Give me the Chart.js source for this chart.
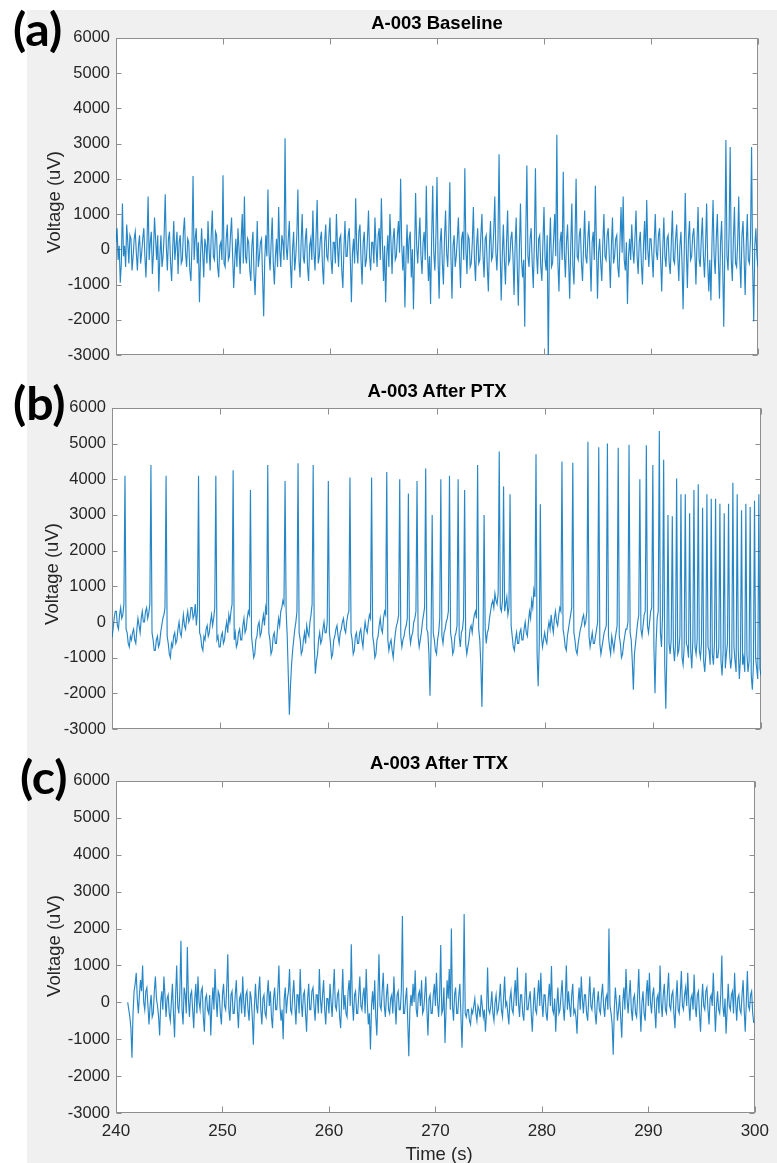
<!DOCTYPE html>
<html>
<head>
<meta charset="utf-8">
<script src="https://cdn.jsdelivr.net/npm/chart.js@4.4.0/dist/chart.umd.min.js"></script>
<style>
  html, body { margin: 0; padding: 0; background: #fff; }
  #fig { position: relative; width: 777px; height: 1163px; overflow: hidden; }
  #bg { position: absolute; left: 27px; top: 10px; right: 0; bottom: 0; background: #f0f0f0; }
  canvas { position: absolute; left: 0; }
  .ttl { position: absolute; font: bold 18.5px "Liberation Sans", Arial, sans-serif; line-height: 1; color: #000; transform: translateX(-50%); white-space: nowrap; }
  .ylab { position: absolute; font: 18.5px "Liberation Sans", Arial, sans-serif; line-height: 1; color: #262626; transform: translate(-50%, -50%) rotate(-90deg); white-space: nowrap; }
  .xlab { position: absolute; font: 18.5px "Liberation Sans", Arial, sans-serif; line-height: 1; color: #262626; transform: translateX(-50%); white-space: nowrap; }
  .tag { position: absolute; font: bold 46px Lato, "Open Sans", sans-serif; line-height: 1; color: #000; transform: scaleX(1.05); transform-origin: left top; }
</style>
</head>
<body>
<div id="fig">
  <div id="bg"></div>
  <canvas id="baseline"></canvas>
  <canvas id="ptx"></canvas>
  <canvas id="ttx"></canvas>

  <div class="ttl" style="left:437px; top:14px;">A-003 Baseline</div>
  <div class="ttl" style="left:437px; top:382px;">A-003 After PTX</div>
  <div class="ttl" style="left:439px; top:754px;">A-003 After TTX</div>

  <div class="ylab" style="left:54px; top:202px;">Voltage (uV)</div>
  <div class="ylab" style="left:52px; top:574px;">Voltage (uV)</div>
  <div class="ylab" style="left:54px; top:946px;">Voltage (uV)</div>

  <div class="xlab" style="left:439px; top:1145px;">Time (s)</div>

  <div class="tag" style="left:13px; top:6px;">(a)</div>
  <div class="tag" style="left:13px; top:380px;">(b)</div>
  <div class="tag" style="left:20px; top:754px;">(c)</div>
</div>

<script>
// sample spacing of the recorded traces (s)
const STEP = 0.1;

// time axis
const timeMin = 240;
const timeMax = 300;
const timeTicks = [240, 250, 260, 270, 280, 290, 300];

// voltage axis (uV)
const voltMin = -3000;
const voltMax = 6000;
const voltTicks = [-3000, -2000, -1000, 0, 1000, 2000, 3000, 4000, 5000, 6000];

// A-003 baseline, from 240 s (one row = 2 s)
const baselineStart = 240;
const baselineUV = [
  200, 600, -300, 100, -950, -400, 1300, -200, 100, -500, 700, 200, -400, 400, 300, -600, -200, 300, 500, -100,
  -600, 100, 400, -400, -100, 300, 600, -200, -800, 200, 1500, -300, 200, 500, -700, -100, 900, 300, -300, 400,
  -1200, -200, 400, -500, -200, 400, 1560, 100, -600, 300, 500, -400, -900, 0, 800, -300, 100, 500, -700, 200,
  400, -400, -300, 500, 900, -100, -500, 300, 200, -600, -900, 100, 2080, -300, 300, 600, -400, 200, -1500, -200,
  600, -100, -800, 300, 100, -400, 800, 0, -600, 400, 1100, -200, -300, 500, 400, -500, -800, 100, 200, -300,
  2100, -400, -500, 300, 700, -300, -200, 400, 900, -200, -1100, -300, 300, -500, 600, 0, -700, 300, 1000, -400,
  1500, -200, -400, 300, 200, -600, -900, 100, 500, -700, -1300, -400, 800, -500, -200, 200, 300, -800, -1900, -300,
  400, -200, 1700, -100, -600, 200, 900, -400, -1000, -200, 300, -500, 1200, 0, -500, 400, 200, -300, 3150, 100,
  -300, 300, 800, -400, -1100, 0, 500, -600, -200, 400, 1700, -300, -800, 200, 1000, -200, -400, 300, 600, -500,
  -900, 100, 300, -300, 1100, -100, -600, 400, 1400, -400, -200, 300, 500, -500, -1000, 200, 700, -200, -300, 400,
  900, -300, -700, 200, 200, -400, 1000, 100, -500, 300, 400, -600, -1100, 0, 800, -200, -200, 400, 600, -300,
  -1500, -100, 300, -400, 1450, 0, -400, 500, 700, -300, -1000, 200, 500, -500, -300, 300, 1100, -200, -600, 200,
  200, -400, 900, 100, -500, 400, 600, -300, 1450, 200, -900, 100, -1500, -200, 400, -500, 1000, 200, -700, 300,
  600, -300, -200, 400, 800, -100, 2000, 200, -600, 100, -1650, -300, 700, -400, 300, 500, -800, 0, -1700, -200,
  1600, 100, -400, 300, 900, -200, -700, 200, 500, -300, 1800, 0, -900, -200, -1550, 300, 1800, -100, -600, 400,
  2050, -300, -1400, 200, 600, -400, -1000, 300, 1100, -100, -500, 400, 1900, -200, -1400, 100, 400, -500, -200, 300,
  900, -200, -1100, 300, 500, -300, 2300, 0, -700, 400, 300, -500, -400, 200, 1200, -300, -900, 100, 600, -400,
  -300, 400, 1000, -200, -800, 300, 400, -500, -1200, 100, 800, -300, -200, 500, 1500, -100, -600, 300, 2700, 0,
  -1450, -200, 700, -300, -1000, 200, 1100, -400, -300, 300, 500, -200, -1300, 100, 900, -500, -1600, 0, 1300, -300,
  -800, -300, -2200, 500, 2380, -200, -500, 300, 600, -400, -1100, 200, 2300, -100, -700, 300, 400, -500, -900, 200,
  1200, -300, -600, 400, -3300, -100, 900, -500, -400, 300, 1000, -200, 3250, -400, -1200, 200, 500, -300, 2200, -100,
  -800, 200, 700, -300, -1400, 100, 1300, -500, -1000, 300, 2000, -200, -300, 400, 600, -400, -900, 100, 1100, -200,
  -400, 300, 800, -200, -1200, 200, 500, -300, 1800, 100, -1400, -100, 300, -400, -900, 200, 1000, -200, -300, 400,
  600, -200, -1100, 100, 900, -400, -200, 300, 400, -500, -800, 200, 1200, -100, 1500, -300, -600, 200, -1550, -200,
  300, -300, 700, 0, -400, 300, 1100, -200, -700, 200, 500, -400, -1000, 100, 800, -300, 1400, 0, -500, 300,
  300, -200, -800, 200, 1000, -100, -300, 400, 600, -300, -1200, 0, 900, -200, -500, 300, 400, -400, -700, 200,
  1100, -300, -400, 300, 700, -200, -900, 100, 500, -400, -1700, -200, 1600, 0, -1100, 300, 800, -300, -200, 400,
  600, -100, -1000, 200, 1200, -300, -500, 300, 900, -200, -800, 100, 1300, -400, -1200, -300, -1450, 200, 1400, -200,
  -700, 300, 1000, -300, -1400, 200, 800, -500, -2200, 0, 3100, -200, -600, 500, 2900, -300, -900, 300, 1200, -400,
  -500, 200, 1500, -300, -1100, 400, 800, -200, -1300, 100, 1000, -300, -400, 300, 2900, -500, -2050, 100, 600, -200,
  -500
];

// A-003 after PTX, from 240 s (one row = 2 s)
const ptxStart = 240;
const ptxUV = [
  -430, -200, 100, 300, 300, -100, -200, 200, 400, 100, 200, 500, 4100, -200, -300, -600, -700, -400, -500, -300,
  -200, -500, -600, -200, 100, -100, -300, 100, 300, 0, 0, 300, 400, 100, 250, 500, 4400, -300, -500, -800,
  -800, -500, -400, -700, -600, -300, -100, 100, 200, 400, 4100, -400, -600, -900, -1000, -600, -700, -400, -300, -600,
  -500, -200, 0, -300, -400, -100, 200, -100, -200, 100, 300, 0, 100, 400, 400, 100, 200, 500, -100, 300,
  4100, -300, -400, -700, -800, -400, -500, -200, -100, -400, -300, 0, 200, -100, 100, 400, 4100, -500, -400, -700,
  -700, -400, -300, -600, -500, -200, 0, -300, 200, 0, 300, 500, 4250, -500, -300, -700, -600, -300, -200, -500,
  -500, -100, 100, -300, -200, 100, 300, 200, 3700, -400, -700, -1000, -900, -500, -400, -100, 0, -400, -300, 0,
  200, -100, 400, 200, 4400, -300, -500, -900, -800, -400, -300, -600, -600, -200, 100, -100, 300, 400, 600, 500,
  3950, 300, -400, -1500, -2600, -1800, -1200, -800, -500, -200, 0, 300, 4450, -300, -500, -900, -800, -500, -300, -600,
  -100, -300, -400, 0, 200, 500, 4400, -600, -1450, -1100, -900, -500, -300, -600, -500, -200, 0, -300, -300, 0,
  3950, -300, -600, -1000, -900, -500, -400, -200, -100, -400, -600, -300, -200, 0, 100, -200, -300, 0, 200, 300,
  4050, -300, -500, -900, -800, -400, -300, -600, -600, -300, -200, -500, -700, -300, 0, -200, -300, 0, 200, 100,
  4050, -400, -600, -1000, -900, -500, -400, -100, 100, -200, -300, 100, 300, 200, 4200, -500, -800, -600, -500, -800,
  -1000, -600, -300, -100, 0, 200, 4000, -400, -700, -500, -400, -200, -100, 100, 3600, -300, -600, -400, -300, 0,
  100, 300, 3950, -400, -700, -500, -300, 0, 200, 400, 4300, -200, -300, -900, -2070, -400, 3000, -300, -500, -800,
  -900, -500, -300, 100, 4000, -400, -600, -300, -200, 0, 100, 300, 4100, -300, -500, -900, -800, -400, -300, -100,
  4000, -400, -700, -300, -200, 100, 3700, -600, -900, -700, -500, -200, -100, -300, 0, 200, 300, 100, 4400, -200,
  -500, -1200, -2380, -600, 3000, -200, -600, -300, -200, 100, 300, 500, 600, 400, 800, 600, 500, 800, 4780, 400,
  300, 600, 3800, 300, 500, 700, 200, 400, 3580, -100, -400, -700, -800, -500, -300, -600, -600, -300, -200, -500,
  -500, -200, 0, -300, -400, 0, 300, 100, 600, 400, 900, 700, 4700, -900, -1800, -600, 3300, -400, -700, -500,
  -300, -500, -600, -200, 0, -200, 200, -100, -300, 100, 300, 0, -100, 200, 400, 300, 4500, -200, -400, -700,
  -800, -400, -200, 0, 200, 400, 4460, -300, -500, -800, -900, -600, -400, -200, -100, 100, 200, -100, 0, 300,
  5050, -400, -700, -500, -300, -600, -600, -400, -200, 0, 4900, -600, -900, -700, -500, -300, -200, -100, 5000, -400,
  -700, -900, -400, -600, -800, -500, -300, -100, 4880, -400, -600, -1000, -900, -600, -400, -200, -200, 0, 4970, -300,
  -500, -1100, -1900, -900, -600, -300, 0, 200, 4000, -200, -400, -100, 200, 300, 4950, -100, -300, 0, 300, 400,
  4400, -700, -2000, -600, 100, 300, 5350, -300, -700, 200, 4550, -1200, -2430, -800, 3000, -600, -900, -500, 2960, -700,
  -1100, -600, 4020, -900, -800, -400, 3580, -1000, -1200, -700, 3580, -600, -700, -1000, 3050, -800, -1300, -500, 3700, -700,
  -900, -500, 3860, -800, -1000, -600, 3200, -1100, -1400, -900, 3580, -700, -800, -1200, 3450, -900, -1200, -600, 3450, -1000,
  -1000, -700, 3310, -1100, -1500, -800, 3050, -1300, -900, -600, 3310, -900, -1300, -1000, 3900, -700, -1100, -1400, 3580, -800,
  -1600, -1000, 3130, -1200, -1000, -1400, 3310, -900, -1400, -1100, 3220, -1500, -1900, -1200, 3400, -1000, -1300, -1600, 3580, -1300,
  -1500
];

// A-003 after TTX, recording resumes at 241.1 s (one row = 2 s)
const ttxStart = 241.1;
const ttxUV = [
  0, -200, -400, -700, -1500, -300, 300, 500, 800, 100, -300, 200, 600, 300, 1000, 0, -200, 300, 400, -100,
  -600, -100, 200, -400, -300, 300, 700, 100, -100, -400, -900, 0, 300, -200, 700, 200, -400, 100, 200, -300,
  -500, 0, 500, -300, -950, 200, 1000, -100, -300, 300, 1670, -200, -600, 400, 200, -300, 1500, 100, -400, 200,
  300, -200, -700, 100, 500, -300, 700, 0, -200, 300, 400, -400, -800, 100, 200, -200, -300, 200, -900, -100,
  400, -200, 900, 100, -400, 300, 200, -300, -600, 200, 500, -100, -200, 400, 1300, -200, -500, 200, 300, -300,
  -300, 200, 600, -200, -700, 100, 200, -300, 700, 0, -400, 200, 300, -200, -500, 300, 100, -400, -1150, -100,
  500, -100, -300, 300, 700, -200, -600, 100, 200, -300, -400, 200, 600, -100, 300, -400, -700, 100, 400, -200,
  -200, 300, 1000, -100, -500, -200, -1000, 100, 400, -300, 100, 300, 900, -200, -300, 200, 600, -100, -600, 200,
  200, -300, 900, 0, -400, 200, 300, -300, -800, 100, 500, -200, -200, 300, 400, -100, -500, 200, 200, -300,
  900, 100, -300, 200, 600, -200, -600, 100, 100, -300, 500, 0, -400, 300, 900, -100, -200, 200, 300, -400,
  -700, 100, 900, -200, 200, -300, -400, 300, 600, -100, 1570, 0, -500, 200, 300, -300, -300, 200, 700, -100,
  -200, 200, 400, -300, 900, 0, -600, -300, -1280, -100, 300, -200, 600, -400, -900, 200, 1300, -100, -200, 300,
  800, -100, -400, 200, 500, -200, -300, 100, 200, -300, 700, 0, -600, 200, 300, -200, -200, 300, 2340, -300,
  -300, 100, 400, -500, -1460, -200, 200, -100, 500, 0, 870, -200, -400, 200, 300, -100, 600, -300, -200, 200,
  700, -200, -900, 100, 200, -300, -300, 200, 500, -100, 800, 0, -400, 200, 1550, -300, -200, 400, -1100, -200,
  600, 100, 900, -200, 2000, -100, -500, 200, 400, -300, -300, 200, 500, -400, -1230, 0, 2390, -300, -400, -200,
  -200, -500, -600, -200, -300, -100, 100, -300, -500, -100, -200, -400, 200, -100, -400, -200, -800, -300, 940, -200,
  -300, -100, 300, -300, -500, 0, 200, -300, -200, 100, 500, -200, -400, 100, 700, -100, 0, -300, -600, 100,
  300, -200, -300, 200, 600, -100, 940, 0, -400, 200, 200, -300, -500, 100, 800, -200, -200, 100, 300, -300,
  -800, -100, 400, -200, -300, 200, 600, -100, 800, 0, -400, 200, 200, -300, -500, 100, 500, -100, 980, -200,
  -300, 100, -800, -100, 400, -300, -200, 200, 600, -100, -500, 100, 1000, -200, 300, -100, -400, 200, 500, -300,
  -200, -400, -850, 0, 400, -200, 700, 100, -300, 200, 200, -300, -500, 100, 700, -100, -200, 200, 400, -300,
  -600, 0, 300, -200, -300, 200, 500, -100, -400, 100, 200, -200, 2000, -100, -300, -600, -1420, -200, 400, 0,
  -500, -200, 200, -400, -960, 0, 400, -200, 900, 100, -300, 200, 600, -200, -500, 100, 200, -300, -400, 200,
  900, -100, -800, 0, 300, -300, -500, 200, 600, -100, 800, 0, -300, 200, 400, -200, -700, 100, 200, -300,
  1000, 0, -400, 200, 500, -200, -300, 300, 800, -100, -200, 200, 300, -300, -700, 100, 600, -200, -300, 200,
  850, -100, -200, 200, 400, -100, 800, 0, -500, 100, 200, -200, 750, -100, -400, 200, 300, -300, -800, 0,
  500, -100, -200, 300, 400, -200, -600, 100, 200, -100, 800, 0, -800, -100, 300, -200, -300, 200, 1270, -100,
  -400, 100, -850, -200, 500, -100, -200, 200, 300, -300, 800, 0, -500, 100, 200, -200, -300, 200, 600, -200,
  -800, 0, 850, -100, -200, 200, 300, -300, -560
];

const TRACE_BLUE = 'rgba(0, 114, 189, 0.85)';
const AXIS_GREY = '#8e8e8e';
const LABEL_COLOR = '#262626';
const FONT_FAMILY = '"Liberation Sans", Arial, sans-serif';

// white plot area, MATLAB style box with inward ticks on all four sides
const matlabAxes = {
  id: 'matlabAxes',
  beforeDraw(chart) {
    const { ctx, chartArea: a } = chart;
    ctx.save();
    ctx.fillStyle = '#fff';
    ctx.fillRect(a.left, a.top, a.right - a.left, a.bottom - a.top);
    ctx.restore();
  },
  beforeDatasetsDraw(chart) {
    const { ctx, chartArea: a, scales } = chart;
    const L = Math.round(a.left) + 0.5, R = Math.round(a.right) - 0.5;
    const T = Math.round(a.top) + 0.5, B = Math.round(a.bottom) - 0.5;
    ctx.save();
    ctx.strokeStyle = AXIS_GREY;
    ctx.lineWidth = 1;
    ctx.strokeRect(L, T, R - L, B - T);
    ctx.beginPath();
    timeTicks.forEach(t => {
      const x = Math.round(scales.x.getPixelForValue(t)) + 0.5;
      ctx.moveTo(x, B); ctx.lineTo(x, B - 6);
      ctx.moveTo(x, T); ctx.lineTo(x, T + 6);
    });
    voltTicks.forEach(v => {
      const y = Math.round(scales.y.getPixelForValue(v)) + 0.5;
      ctx.moveTo(L, y); ctx.lineTo(L + 5, y);
      ctx.moveTo(R, y); ctx.lineTo(R - 5, y);
    });
    ctx.stroke();
    ctx.restore();
  }
};

function drawPanel(id, t0, volts, box, withTime) {
  const topPad = 14;
  const bottomSpace = withTime ? 34 : 14;
  const canvas = document.getElementById(id);
  canvas.width = 777;
  canvas.height = box.bottom - box.top + topPad + bottomSpace;
  canvas.style.top = (box.top - topPad) + 'px';

  const points = volts.map((v, i) => ({ x: t0 + i * STEP, y: v }));

  new Chart(canvas, {
    type: 'line',
    data: {
      datasets: [{
        data: points,
        borderColor: TRACE_BLUE,
        borderWidth: 1.15,
        pointRadius: 0,
        tension: 0,
        fill: false,
        clip: 0
      }]
    },
    options: {
      responsive: false,
      animation: false,
      events: [],
      layout: {
        autoPadding: false,
        padding: { left: 0, top: topPad, right: 777 - box.right, bottom: withTime ? 0 : bottomSpace }
      },
      plugins: { legend: { display: false }, tooltip: { enabled: false } },
      scales: {
        x: {
          type: 'linear',
          display: withTime,
          min: timeMin,
          max: timeMax,
          afterBuildTicks: s => { s.ticks = timeTicks.map(v => ({ value: v })); },
          ticks: { padding: 8, color: LABEL_COLOR, font: { family: FONT_FAMILY, size: 17 }, maxRotation: 0, callback: v => String(v) },
          grid: { display: false, drawTicks: false },
          border: { display: false },
          afterFit: s => { s.height = bottomSpace; }
        },
        y: {
          type: 'linear',
          min: voltMin,
          max: voltMax,
          afterBuildTicks: s => { s.ticks = voltTicks.map(v => ({ value: v })); },
          ticks: { padding: 6, color: LABEL_COLOR, font: { family: FONT_FAMILY, size: 16.5 }, callback: v => String(v) },
          grid: { display: false, drawTicks: false },
          border: { display: false },
          afterFit: s => { s.width = box.left; }
        }
      }
    },
    plugins: [matlabAxes]
  });
}

drawPanel('baseline', baselineStart, baselineUV, { left: 116, top: 36, right: 758, bottom: 369 }, false);
drawPanel('ptx', ptxStart, ptxUV, { left: 112, top: 406, right: 761, bottom: 743 }, false);
drawPanel('ttx', ttxStart, ttxUV, { left: 116, top: 779, right: 762, bottom: 1113 }, true);
</script>
</body>
</html>
